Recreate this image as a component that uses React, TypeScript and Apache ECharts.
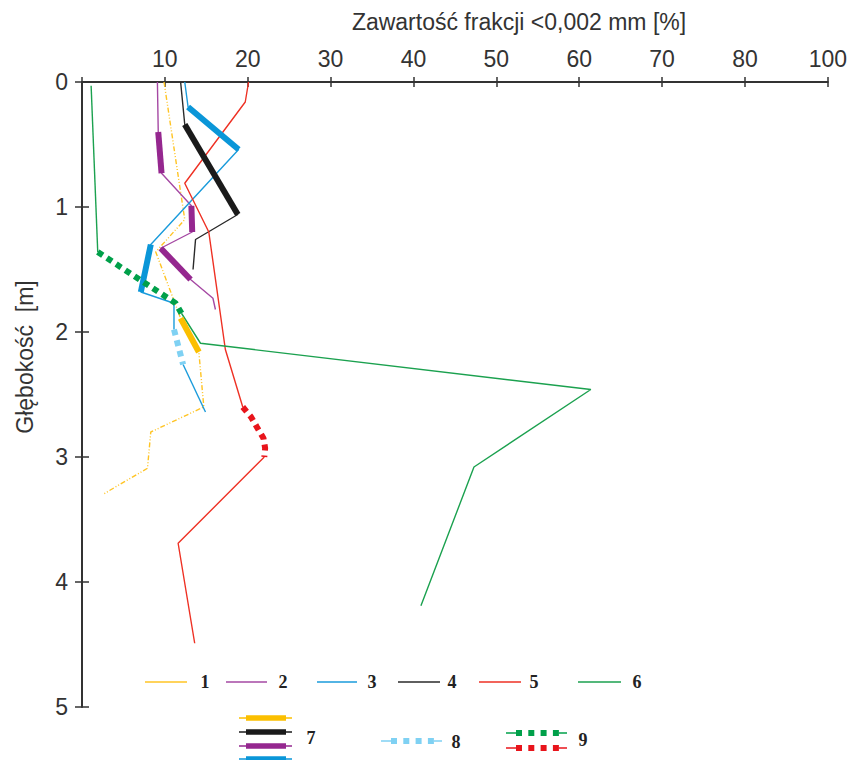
import React, { useEffect, useRef } from "react";
import * as echarts from "echarts";

// ---- data (clay fraction <0.002 mm [%] vs depth [m]) ----
const xTickValues = [0, 10, 20, 30, 40, 50, 60, 70, 80, 90];
const xTickLabels = ["", "10", "20", "30", "40", "50", "60", "70", "80", "100"];
const depthTicks = [0, 1, 2, 3, 4, 5];

// profile 1 (yellow)
const p1Clay = [9.9, 12.4, 8.9, 11.9, 14.1, 14.7, 8.3, 7.9, 2.5];
const p1Depth = [0, 1.1, 1.36, 1.89, 2.16, 2.6, 2.8, 3.09, 3.3];
// profile 2 (purple)
const p2Clay = [9.1, 9.2, 9.6, 13.2, 13.3, 9.5, 13.1, 15.8, 16.1];
const p2Depth = [0, 0.4, 0.73, 0.99, 1.2, 1.33, 1.58, 1.73, 1.82];
// profile 3 (blue)
const p3Clay = [12.4, 12.8, 18.9, 8.3, 7.1, 11.1, 11.1, 12.2, 14.9];
const p3Depth = [0, 0.2, 0.54, 1.3, 1.68, 1.77, 1.98, 2.26, 2.64];
// profile 4 (black)
const p4Clay = [11.9, 12.4, 18.8, 13.7, 13.4];
const p4Depth = [0, 0.34, 1.06, 1.26, 1.5];
// profile 5 (red)
const p5Clay = [20.1, 19.7, 12.4, 15.3, 17.3, 19.4, 20.4, 21.1, 21.9, 22.1, 22.0, 11.6, 13.6];
const p5Depth = [0, 0.16, 0.81, 1.2, 2.14, 2.6, 2.68, 2.76, 2.85, 2.93, 3.0, 3.69, 4.49];
// profile 6 (green)
const p6Clay = [1.1, 1.9, 11.3, 12.0, 14.3, 61.4, 47.3, 40.9];
const p6Depth = [0.03, 1.36, 1.77, 1.85, 2.09, 2.46, 3.08, 4.19];

// segment index ranges: thick (7), dotted (8 / 9)
const p1Thick = [[3, 4]];
const p2Thick = [[1, 2], [3, 4], [5, 6]];
const p3Thick = [[1, 2], [3, 4]];
const p3Dotted = [[6, 7]];
const p4Thick = [[1, 2]];
const p5Dotted = [[5, 10]];
const p6Dotted = [[1, 3]];

const FONT = "'Liberation Sans', Arial, sans-serif";
const SERIF = "'Liberation Serif', 'Times New Roman', serif";

type Profile = {
  clay: number[];
  depth: number[];
  color: string;
  thickColor: string;
  dotColor: string;
  thinType: any;
  thick: number[][];
  dotted: number[][];
};

const profiles: Profile[] = [
  { clay: p1Clay, depth: p1Depth, color: "#FFC424", thickColor: "#FBBF00", dotColor: "#FBBF00", thinType: [5, 2, 1, 2, 1, 2], thick: p1Thick, dotted: [] },
  { clay: p2Clay, depth: p2Depth, color: "#A548A3", thickColor: "#95278F", dotColor: "#95278F", thinType: "solid", thick: p2Thick, dotted: [] },
  { clay: p3Clay, depth: p3Depth, color: "#1A9BDB", thickColor: "#0A96D8", dotColor: "#7FD1F3", thinType: "solid", thick: p3Thick, dotted: p3Dotted },
  { clay: p4Clay, depth: p4Depth, color: "#2A2A2A", thickColor: "#1A1A1A", dotColor: "#1A1A1A", thinType: "solid", thick: p4Thick, dotted: [] },
  { clay: p5Clay, depth: p5Depth, color: "#EE3124", thickColor: "#E8141B", dotColor: "#E8141B", thinType: "solid", thick: [], dotted: p5Dotted },
  { clay: p6Clay, depth: p6Depth, color: "#1BA14F", thickColor: "#00A04A", dotColor: "#00A04A", thinType: "solid", thick: [], dotted: p6Dotted },
];

function pts(p: Profile, a: number, b: number) {
  const out: number[][] = [];
  for (let i = a; i <= b; i++) out.push([p.clay[i], p.depth[i]]);
  return out;
}

function buildSeries() {
  const thin: any[] = [];
  const heavy: any[] = [];
  profiles.forEach((p, k) => {
    const n = p.clay.length;
    let start = 0;
    const dots = [...p.dotted].sort((a, b) => a[0] - b[0]);
    const ranges: number[][] = [];
    dots.forEach((d) => {
      if (d[0] > start) ranges.push([start, d[0]]);
      start = d[1];
    });
    if (start < n - 1) ranges.push([start, n - 1]);
    ranges.forEach((r, i) =>
      thin.push({
        name: `p${k + 1}-thin-${i}`,
        type: "line",
        data: pts(p, r[0], r[1]),
        showSymbol: false,
        symbol: "none",
        silent: true,
        lineStyle: { color: p.color, width: 1.4, type: p.thinType, cap: "butt" },
        z: 2,
      })
    );
    p.thick.forEach((r, i) =>
      heavy.push({
        name: `p${k + 1}-thick-${i}`,
        type: "line",
        data: pts(p, r[0], r[1]),
        showSymbol: false,
        symbol: "none",
        silent: true,
        lineStyle: { color: p.thickColor, width: 6, type: "solid", cap: "butt" },
        z: 3,
      })
    );
    p.dotted.forEach((r, i) =>
      heavy.push({
        name: `p${k + 1}-dot-${i}`,
        type: "line",
        data: pts(p, r[0], r[1]),
        showSymbol: false,
        symbol: "none",
        silent: true,
        lineStyle: { color: p.dotColor, width: 6, type: [6, 5], cap: "butt" },
        z: 3,
      })
    );
  });
  return [...thin, ...heavy];
}

function legendGraphics() {
  const g: any[] = [];
  const row1 = [
    { x1: 145, x2: 187, tx: 205, c: "#FFC424", t: "1" },
    { x1: 226, x2: 267, tx: 283, c: "#A548A3", t: "2" },
    { x1: 317, x2: 357, tx: 372, c: "#1A9BDB", t: "3" },
    { x1: 398, x2: 440, tx: 452, c: "#2A2A2A", t: "4" },
    { x1: 479, x2: 521, tx: 534, c: "#EE3124", t: "5" },
    { x1: 578, x2: 621, tx: 637, c: "#1BA14F", t: "6" },
  ];
  const y1 = 682;
  const labelStyle = (t: string) => ({
    text: t,
    font: `bold 18px ${SERIF}`,
    fill: "#222",
    textAlign: "center",
    textVerticalAlign: "middle",
  });
  row1.forEach((it) => {
    g.push({ type: "line", shape: { x1: it.x1, y1, x2: it.x2, y2: y1 }, style: { stroke: it.c, lineWidth: 1.5 } });
    g.push({ type: "text", x: it.tx, y: y1, style: labelStyle(it.t) });
  });
  const thickCols = ["#FBBF00", "#1A1A1A", "#95278F", "#0A96D8"];
  const thickYs = [718, 732, 746, 759];
  thickCols.forEach((c, i) => {
    g.push({ type: "line", shape: { x1: 239, y1: thickYs[i], x2: 292, y2: thickYs[i] }, style: { stroke: c, lineWidth: 1.5 } });
    g.push({ type: "line", shape: { x1: 246, y1: thickYs[i], x2: 286, y2: thickYs[i] }, style: { stroke: c, lineWidth: 5.5 } });
  });
  g.push({ type: "text", x: 311, y: 738, style: labelStyle("7") });

  const dotted = [
    { x1: 381, x2: 442, y: 741, c: "#7FD1F3" },
    { x1: 506, x2: 567, y: 733, c: "#00A04A" },
    { x1: 506, x2: 567, y: 748, c: "#E8141B" },
  ];
  dotted.forEach((d) => {
    const sq0 = d.x1 + 10;
    const step = 12.3;
    const lastEnd = sq0 + 3 * step + 6;
    g.push({ type: "line", shape: { x1: d.x1, y1: d.y, x2: sq0, y2: d.y }, style: { stroke: d.c, lineWidth: 1.5 } });
    g.push({ type: "line", shape: { x1: lastEnd, y1: d.y, x2: d.x2, y2: d.y }, style: { stroke: d.c, lineWidth: 1.5 } });
    for (let i = 0; i < 4; i++) {
      g.push({ type: "rect", shape: { x: sq0 + i * step, y: d.y - 3, width: 6, height: 6 }, style: { fill: d.c } });
    }
  });
  g.push({ type: "text", x: 456, y: 742, style: labelStyle("8") });
  g.push({ type: "text", x: 583, y: 740, style: labelStyle("9") });
  return g;
}

export default function App() {
  const ref = useRef<HTMLDivElement>(null);
  useEffect(() => {
    if (!ref.current) return;
    const chart = echarts.init(ref.current, undefined, { renderer: "svg" });
    const axisColor = "#333";
    const xLabel = (v: number) => {
      const i = xTickValues.indexOf(v);
      return i >= 0 ? xTickLabels[i] : "";
    };
    chart.setOption({
      animation: false,
      backgroundColor: "#fff",
      grid: { left: 82, right: 15, top: 82, bottom: 53, containLabel: false },
      xAxis: [
        {
          type: "value",
          position: "top",
          min: 0,
          max: 90,
          interval: 10,
          axisLine: { show: true, lineStyle: { color: axisColor, width: 2 } },
          axisTick: { show: true, inside: false, length: 5, lineStyle: { color: axisColor, width: 1.5 } },
          axisLabel: { formatter: xLabel, margin: 12, fontSize: 23, color: axisColor, fontFamily: FONT },
          splitLine: { show: false },
        },
        {
          type: "value",
          position: "top",
          offset: 0,
          min: 0,
          max: 90,
          interval: 10,
          axisLine: { show: false },
          axisTick: { show: true, inside: true, length: 5, lineStyle: { color: axisColor, width: 1.5 } },
          axisLabel: { show: false },
          splitLine: { show: false },
        },
      ],
      yAxis: [
        {
          type: "value",
          position: "left",
          inverse: true,
          min: depthTicks[0],
          max: depthTicks[depthTicks.length - 1],
          interval: 1,
          axisLine: { show: true, lineStyle: { color: axisColor, width: 2 } },
          axisTick: { show: true, inside: false, length: 7, lineStyle: { color: axisColor, width: 1.5 } },
          axisLabel: { margin: 14, fontSize: 23, color: axisColor, fontFamily: FONT },
          splitLine: { show: false },
        },
        {
          type: "value",
          position: "left",
          offset: 0,
          inverse: true,
          min: depthTicks[0],
          max: depthTicks[depthTicks.length - 1],
          interval: 1,
          axisLine: { show: false },
          axisTick: { show: true, inside: true, length: 7, lineStyle: { color: axisColor, width: 1.5 } },
          axisLabel: { show: false },
          splitLine: { show: false },
        },
      ],
      series: buildSeries(),
      graphic: [
        {
          type: "text",
          x: 519,
          y: 22,
          style: {
            text: "Zawartość frakcji <0,002 mm [%]",
            font: `23px ${FONT}`,
            fill: axisColor,
            textAlign: "center",
            textVerticalAlign: "middle",
          },
        },
        {
          type: "text",
          x: 25,
          y: 357,
          rotation: Math.PI / 2,
          style: {
            text: "Głębokość  [m]",
            font: `23px ${FONT}`,
            fill: axisColor,
            textAlign: "center",
            textVerticalAlign: "middle",
          },
        },
        ...legendGraphics(),
      ],
    });
    return () => chart.dispose();
  }, []);
  return (
    <div
      ref={ref}
      style={{ position: "absolute", left: 0, top: 0, width: 850, height: 760, background: "#fff" }}
    />
  );
}
